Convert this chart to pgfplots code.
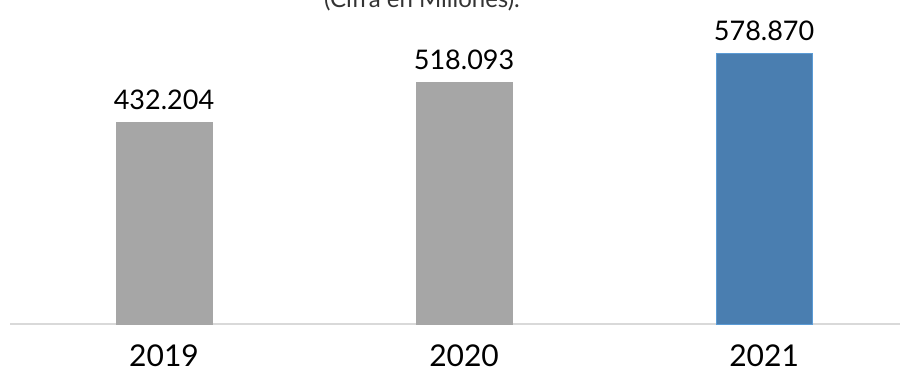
\documentclass[border=0pt]{standalone}
\usepackage{pgfplots}
\pgfplotsset{compat=1.18}
\usepackage{fontspec}
\setmainfont{Lato}
\definecolor{bargray}{HTML}{A6A6A6}
\definecolor{barblue}{HTML}{4A7EB0}
\definecolor{barblueedge}{HTML}{5B9BD5}
\definecolor{axisgray}{HTML}{D9D9D9}
\begin{document}
\begin{tikzpicture}[x=1pt,y=1pt]
\useasboundingbox (0,0) rectangle (900,373);
\clip (0,0) rectangle (900,373);
\node[anchor=base, font=\fontsize{24}{28}\selectfont, text=black!80] at (422,365) {(Cifra en Millones).};
\begin{axis}[
  at={(164pt,49pt)}, anchor=origin,
  scale only axis,
  width=890pt, height=324pt,
  xmin=-0.513, xmax=2.453,
  ymin=0, ymax=693684,
  axis y line=none,
  axis x line*=bottom,
  x axis line style={draw=axisgray, line width=1.5pt, -},
  xtick={0,1,2},
  xticklabels={2019,2020,2021},
  major tick length=0pt,
  xticklabel style={font=\fontsize{30}{36}\selectfont, yshift=-17pt},
  ybar, bar width=96pt, bar shift=0pt,
  clip=false,
  /pgf/number format/assume math mode=true,
  nodes near coords,
  nodes near coords style={font=\fontsize{27}{32}\selectfont, text=black, anchor=south, yshift=9pt,
    /pgf/number format/.cd, fixed, precision=0, 1000 sep={.}},
]
\addplot[fill=bargray, draw=bargray] coordinates {(0,432204) (1,518093)};
\addplot[fill=barblue, draw=barblueedge, line width=0.8pt] coordinates {(2,578870)};
\end{axis}
\end{tikzpicture}
\end{document}
